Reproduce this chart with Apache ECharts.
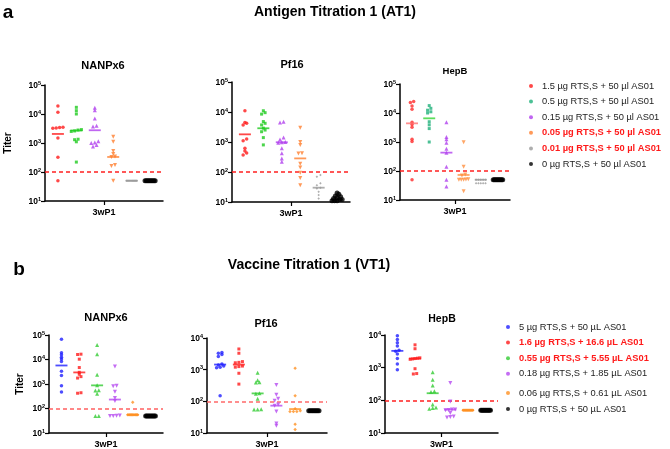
<!DOCTYPE html>
<html><head><meta charset="utf-8">
<script src="https://cdn.jsdelivr.net/npm/echarts@6/dist/echarts.min.js"></script>
<style>html,body{margin:0;padding:0;background:#fff}#c{width:670px;height:449px}</style>
</head><body><div id="c"></div>
<script>
// ---------- DATA ----------
const atGroups = ['1.5 µg RTS,S + 50 µl AS01','0.5 µg RTS,S + 50 µl AS01','0.15 µg RTS,S + 50 µl AS01','0.05 µg RTS,S + 50 µl AS01','0.01 µg RTS,S + 50 µl AS01','0 µg RTS,S + 50 µl AS01'];
const vtGroups = ['5 µg RTS,S + 50 µL AS01','1.6 µg RTS,S + 16.6 µL AS01','0.55 µg RTS,S + 5.55 µL AS01','0.18 µg RTS,S + 1.85 µL AS01','0.06 µg RTS,S + 0.61 µL AS01','0 µg RTS,S + 50 µL AS01'];
const atHighlighted = [3, 4];
const vtHighlighted = [1, 2];
const xTickLabel = '3wP1';
const cutoff = 100;
const titleA = 'Antigen Titration 1 (AT1)';
const titleB = 'Vaccine Titration 1 (VT1)';
const yTitle = 'Titer';

const at1NANPx6 = [
  [19000, 11500, 3500, 3400, 3300, 3200, 1500, 320, 50],
  [17000, 13000, 10000, 2900, 2800, 2600, 2500, 1350, 1300, 1100, 220],
  [16500, 13500, 7000, 3900, 3700, 1150, 1050, 1000, 850, 750],
  [1650, 1100, 530, 420, 340, 330, 175, 160, 50],
  [50, 50, 50, 50, 50, 50, 50, 50, 50, 50],
  [50, 50, 50, 50, 50, 50, 50, 50, 50, 50]
];
const at1NANPx6Median = [2050, 2700, 2750, 330, 50, 50];

const at1Pf16 = [
  [11000, 4500, 4200, 3700, 1250, 1100, 620, 500, 430, 370],
  [11000, 9500, 8500, 4800, 4200, 3700, 2900, 2500, 2200, 1400, 800],
  [4700, 4500, 1400, 1200, 1000, 980, 950, 620, 420, 280, 220],
  [3000, 1000, 800, 420, 410, 190, 140, 95, 63, 36],
  [80, 70, 42, 36, 30, 28, 22, 17, 13],
  [20, 18, 16, 15, 14, 13, 12, 12, 11, 11, 11]
];
const at1Pf16Median = [1800, 2870, 980, 284, 30, 12];

const at1HepB = [
  [25000, 23000, 17500, 13500, 4800, 4000, 3200, 1250, 1050, 50],
  [18000, 14500, 12500, 11000, 10000, 5000, 3900, 2900, 1000],
  [4800, 1500, 1250, 950, 580, 430, 140, 50, 29],
  [980, 140, 75, 70, 52, 51, 50, 50, 50, 20],
  [50, 50, 50, 50, 50, 38, 38, 38, 38, 38],
  [50, 50, 50, 50, 50, 50, 50, 50, 50, 50]
];
const at1HepBMedian = [4400, 6550, 430, 73, 50, 50];

const vt1NANPx6 = [
  [67000, 19000, 15500, 12500, 10500, 8300, 3300, 2200, 850, 470],
  [16500, 16000, 10300, 4700, 3000, 2500, 2000, 1750, 440, 420],
  [39000, 16500, 2400, 880, 560, 540, 400, 50, 50],
  [5200, 850, 800, 480, 270, 200, 52, 51, 50, 50],
  [180, 55, 55, 55, 55, 55, 55, 55, 55, 55],
  [50, 50, 50, 50, 50, 50, 50, 50, 50, 50]
];
const vt1NANPx6Median = [5700, 2970, 880, 232, 55, 50];

const vt1Pf16 = [
  [3500, 3300, 3000, 2600, 1500, 1400, 1300, 1200, 1150, 150],
  [4500, 3300, 1800, 1700, 1650, 1300, 1250, 1200, 770, 350],
  [800, 460, 400, 390, 180, 175, 120, 56, 55, 55],
  [330, 160, 120, 105, 80, 72, 48, 20, 17],
  [1100, 150, 58, 50, 48, 48, 48, 19, 13],
  [50, 50, 50, 50, 50, 50, 50, 50, 50, 50]
];
const vt1Pf16Median = [1450, 1450, 178, 73, 57, 50];

const vt1HepB = [
  [9500, 7300, 5800, 4600, 3400, 3200, 2600, 1900, 1300, 870],
  [5000, 3800, 2000, 1950, 1900, 1850, 1800, 930, 660, 640],
  [720, 430, 285, 190, 180, 75, 60, 58, 55],
  [340, 92, 52, 52, 51, 50, 41, 32, 31, 30],
  [50, 50, 50, 50, 50, 50, 50, 50, 50, 50],
  [50, 50, 50, 50, 50, 50, 50, 50, 50, 50]
];
const vt1HepBMedian = [3270, 1900, 165, 52, 50, 50];

// ---------- STYLE ----------
const FONT = '"Liberation Sans", Arial, Helvetica, sans-serif';
const topColors = ['#ff1a1a', '#1ecb1e', '#b040ee', '#ff8030', '#9a9a9a', '#000000'];
const topHepBColors = ['#ff2a2a', '#1fb07a', '#b040ee', '#ff9040', '#9a9a9a', '#000000'];
const topHepBMedColors = ['#ff7070', '#33d633', '#b040ee', '#ff9040', '#9a9a9a', '#000000'];
const botColors = ['#2020ff', '#ff1a1a', '#33cc33', '#b548f0', '#ff9020', '#000000'];
const symbols = ['circle', 'rect', 'triangle', 'triangle', 'diamond', 'circle'];
const symRot = [0, 0, 0, 180, 0, 0];
const topSizes = [3.5, 3, 4, 4, 2.5, 5];
const botSizes = [3.5, 3, 4, 4, 3.5, 5];

const panels = [
  {vals: at1NANPx6, med: at1NANPx6Median, names: atGroups, title: 'NANPx6', tx: 103, ty: 66, tsize: 11, grid: {left: 45, top: 85, width: 118, height: 116}, yMax: 1e5, colors: topColors, medColors: topColors, sizes: topSizes, cut: '#ff2020'},
  {vals: at1Pf16, med: at1Pf16Median, names: atGroups, title: 'Pf16', tx: 292, ty: 65, tsize: 11, grid: {left: 232, top: 82, width: 118, height: 120}, yMax: 1e5, colors: topColors, medColors: topColors, sizes: topSizes, cut: '#ff2020'},
  {vals: at1HepB, med: at1HepBMedian, names: atGroups, title: 'HepB', tx: 455, ty: 71, tsize: 9.5, grid: {left: 400, top: 84, width: 110, height: 116}, yMax: 1e5, colors: topHepBColors, medColors: topHepBMedColors, sizes: topSizes, cut: '#ff2020'},
  {vals: vt1NANPx6, med: vt1NANPx6Median, names: vtGroups, title: 'NANPx6', tx: 106, ty: 318, tsize: 11, grid: {left: 49, top: 335, width: 114, height: 99}, yMax: 1e5, colors: botColors, medColors: botColors, sizes: botSizes, cut: '#ff6060'},
  {vals: vt1Pf16, med: vt1Pf16Median, names: vtGroups, title: 'Pf16', tx: 266, ty: 324, tsize: 11, grid: {left: 207, top: 338, width: 120, height: 96}, yMax: 1e4, colors: botColors, medColors: botColors, sizes: botSizes, cut: '#ff6a6a'},
  {vals: vt1HepB, med: vt1HepBMedian, names: vtGroups, title: 'HepB', tx: 442, ty: 319, tsize: 10.5, grid: {left: 385, top: 335, width: 113, height: 98}, yMax: 1e4, colors: botColors, medColors: botColors, sizes: botSizes, cut: '#ff2020'}
];

// deterministic beeswarm-like horizontal spread of overlapping values
function spread(vals) {
  const order = vals.map((v, i) => i).sort((a, b) => vals[a] - vals[b]);
  const off = new Array(vals.length).fill(0);
  let i = 0;
  while (i < order.length) {
    const base = Math.log10(vals[order[i]]);
    let j = i + 1;
    while (j < order.length && Math.log10(vals[order[j]]) - base < 0.07) j++;
    const n = j - i;
    const step = n > 1 ? Math.min(0.19, 0.55 / (n - 1)) : 0;
    for (let k = 0; k < n; k++) off[order[i + k]] = (k - (n - 1) / 2) * step;
    i = j;
  }
  return off;
}

const grids = [], xAxes = [], yAxes = [], series = [];
panels.forEach((p, pi) => {
  grids.push(Object.assign({containLabel: false}, p.grid));
  xAxes.push({
    type: 'value', gridIndex: pi, min: 0.3, max: 6.7,
    axisLine: {show: true, lineStyle: {color: '#000', width: 1.5}},
    axisTick: {show: true, customValues: [3.5], length: 4, lineStyle: {color: '#000', width: 1.2}},
    axisLabel: {show: true, customValues: [3.5], formatter: () => xTickLabel, fontSize: 9, fontWeight: 'bold', fontFamily: FONT, color: '#000', margin: 7},
    splitLine: {show: false}
  });
  yAxes.push({
    type: 'log', logBase: 10, gridIndex: pi, min: 10, max: p.yMax,
    axisLine: {show: true, lineStyle: {color: '#000', width: 1.5}},
    axisTick: {show: true, length: 4, lineStyle: {color: '#000', width: 1.2}},
    axisLabel: {
      margin: 4, fontFamily: FONT,
      formatter: v => '{b|10}{s|' + Math.round(Math.log10(v)) + '}',
      rich: {
        b: {fontSize: 8.5, fontWeight: 'bold', color: '#000', fontFamily: FONT, lineHeight: 10, verticalAlign: 'bottom'},
        s: {fontSize: 5.5, fontWeight: 'bold', color: '#000', fontFamily: FONT, lineHeight: 10, verticalAlign: 'top'}
      }
    },
    splitLine: {show: false}
  });
  p.vals.forEach((vals, g) => {
    const off = spread(vals);
    const s = {
      type: 'scatter', name: p.names[g], xAxisIndex: pi, yAxisIndex: pi,
      symbol: symbols[g], symbolRotate: symRot[g], symbolSize: p.sizes[g],
      itemStyle: {color: p.colors[g]},
      data: vals.map((v, k) => [g + 1 + off[k], v]),
      z: 3, silent: true
    };
    if (g === 0) {
      s.markLine = {
        silent: true, symbol: ['none', 'none'], label: {show: false},
        lineStyle: {color: p.cut, type: [4, 3], width: 1.5},
        data: [{yAxis: cutoff}], z: 2
      };
    }
    series.push(s);
    series.push({
      type: 'scatter', name: 'median-' + pi + '-' + g, xAxisIndex: pi, yAxisIndex: pi,
      symbol: 'rect', symbolSize: [12, 1.8],
      itemStyle: {color: p.medColors[g]},
      data: [[g + 1, p.med[g]]], z: 4, silent: true
    });
  });
});

function legendItems(names, colors, hi) {
  return names.map((n, i) => ({
    name: n, icon: 'circle',
    itemStyle: {color: colors[i]},
    textStyle: hi.includes(i) ? {color: '#ff1a1a', fontWeight: 'bold'} : {color: '#222', fontWeight: 'normal'}
  }));
}
const legTop = legendItems(atGroups, ['#ff1a1a', '#1fb07a', '#b040ee', '#ff8030', '#9a9a9a', '#000'], atHighlighted);
const legBot = legendItems(vtGroups, botColors, vtHighlighted);
const legBase = {
  orient: 'vertical', selectedMode: false, itemWidth: 12, itemHeight: 4, padding: 0,
  textStyle: {fontSize: 9.3, fontFamily: FONT, lineHeight: 12, color: '#222'}
};

function txt(x, y, text, size, extra) {
  return Object.assign({
    type: 'text', x: x, y: y, silent: true,
    style: {text: text, fontSize: size, fontWeight: 'bold', fontFamily: FONT, fill: '#000',
      align: 'center', verticalAlign: 'middle', textAlign: 'center', textVerticalAlign: 'middle'}
  }, extra || {});
}
const graphics = [
  txt(8, 13, 'a', 19),
  txt(335, 12, titleA, 14),
  txt(19, 270, 'b', 19),
  txt(309, 265, titleB, 14),
  txt(8, 143, yTitle, 10, {rotation: Math.PI / 2}),
  txt(20, 384, yTitle, 10, {rotation: Math.PI / 2})
];
panels.forEach(p => graphics.push(txt(p.tx, p.ty, p.title, p.tsize)));

const chart = echarts.init(document.getElementById('c'), null, {renderer: 'canvas'});
chart.setOption({
  animation: false,
  backgroundColor: '#fff',
  grid: grids, xAxis: xAxes, yAxis: yAxes, series: series,
  legend: [
    Object.assign({}, legBase, {left: 529, top: 80, itemGap: 3.6, data: legTop}),
    Object.assign({}, legBase, {left: 506, top: 321, itemGap: 3.6, data: legBot.slice(0, 4)}),
    Object.assign({}, legBase, {left: 506, top: 387, itemGap: 4, data: legBot.slice(4)})
  ],
  graphic: graphics
});
</script></body></html>
